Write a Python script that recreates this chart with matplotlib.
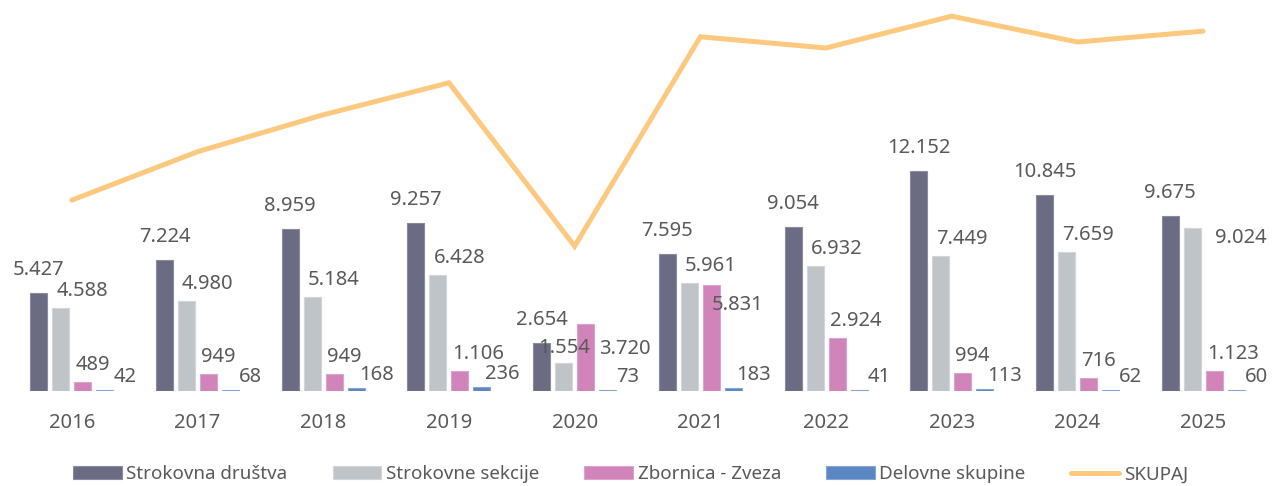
import numpy as np
import matplotlib
matplotlib.use("Agg")
import matplotlib.pyplot as plt

# podatki
leta = ["2016", "2017", "2018", "2019", "2020", "2021", "2022", "2023", "2024", "2025"]
drustva = [5427, 7224, 8959, 9257, 2654, 7595, 9054, 12152, 10845, 9675]
sekcije = [4588, 4980, 5184, 6428, 1554, 5961, 6932, 7449, 7659, 9024]
zbornica = [489, 949, 949, 1106, 3720, 5831, 2924, 994, 716, 1123]
skupine = [42, 68, 168, 236, 73, 183, 41, 113, 62, 60]
skupaj = [10546, 13221, 15260, 17027, 8001, 19570, 18951, 20708, 19282, 19882]

imena = ["Strokovna društva", "Strokovne sekcije", "Zbornica - Zveza", "Delovne skupine"]
barve = ["#6B6B83", "#BFC4C8", "#D084B9", "#5A86C4"]
robovi = ["#8A8AA0", "#D2D6D9", "#DEA3CB", "#86A6D6"]
barva_crte = "#FDC97F"
barva_teksta = "#595959"
pisava = ["Noto Sans", "DejaVu Sans"]

# postavitev oznak: (sidro, dx px, dy px nad vrhom, poravnava)
privzeto = [("c", 0, 25, "center"), ("l", 4, 19, "left"),
            ("l", 1, 19, "left"), ("c", 20, 15, "center")]
izjeme = {(1, 4): ("c", 0, 17, "center"),
          (2, 4): ("r", 5, -23, "left"),
          (2, 5): ("l", 9, -18, "left"),
          (1, 9): ("r", 14, -8, "left")}

plt.rcParams["font.family"] = pisava

fig = plt.figure(figsize=(12.74, 4.86), dpi=100)
ax = fig.add_axes([9 / 1274, 95 / 486, 1257 / 1274, 386 / 486])

x = np.arange(len(leta))
sirina = 0.135
odmiki = [-0.2625, -0.0875, 0.0875, 0.2625]
serije = [drustva, sekcije, zbornica, skupine]

for s, (vals, ime, barva, rob, odm) in enumerate(zip(serije, imena, barve, robovi, odmiki)):
    bars = ax.bar(x + odm, vals, sirina, color=barva, label=ime,
                  edgecolor=rob, linewidth=0.8, zorder=2)
    for i, (b, v) in enumerate(zip(bars, vals)):
        sidro, dx, dy, ha = izjeme.get((s, i), privzeto[s])
        if sidro == "c":
            xa = b.get_x() + b.get_width() / 2
        elif sidro == "l":
            xa = b.get_x()
        else:
            xa = b.get_x() + b.get_width()
        ax.annotate(f"{v:,}".replace(",", "."), (xa, v),
                    xytext=(dx, dy - 7), textcoords="offset pixels",
                    ha=ha, va="baseline", fontsize=14.5, color=barva_teksta,
                    zorder=4)

ax.plot(x, skupaj, color=barva_crte, linewidth=3.6, label="SKUPAJ",
        solid_capstyle="round", solid_joinstyle="miter", zorder=3)

ax.set_xlim(-0.5, len(leta) - 0.5)
ax.set_ylim(0, 386 / 0.0181)
ax.set_xticks(x)
ax.set_xticklabels(leta, fontsize=14.5, color=barva_teksta)
ax.tick_params(axis="x", length=0, pad=16)
ax.set_yticks([])
for sp in ax.spines.values():
    sp.set_visible(False)

h, l = ax.get_legend_handles_labels()
vrstni_red = [1, 2, 3, 4, 0]
fig.legend([h[k] for k in vrstni_red], [l[k] for k in vrstni_red],
           loc="center", bbox_to_anchor=(0.495, 0.024), ncol=5, frameon=False,
           fontsize=13.5, labelcolor=barva_teksta, handlelength=2.6,
           handleheight=0.65, handletextpad=0.25, columnspacing=2.4)

fig.savefig("out.png", dpi=100)
